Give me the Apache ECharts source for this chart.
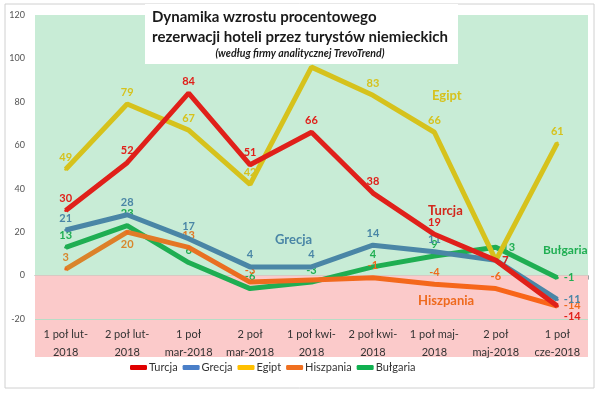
<!DOCTYPE html>
<html><head><meta charset="utf-8">
<script src="https://cdn.jsdelivr.net/npm/echarts@6/dist/echarts.min.js"></script>
<style>html,body{margin:0;padding:0;background:#fff}#c{width:600px;height:394px}</style>
</head><body><div id="c"></div>
<script>
const categories = ['1 poł lut-\n2018','2 poł lut-\n2018','1 poł\nmar-2018','2 poł\nmar-2018','1 poł kwi-\n2018','2 poł kwi-\n2018','1 poł maj-\n2018','2 poł\nmaj-2018','1 poł\ncze-2018'];
const turcja    = [30, 52, 84, 51, 66, 38, 19, 7, -14];
const grecja    = [21, 28, 17, 4, 4, 14, 11, 7, -11];
const egipt     = [49, 79, 67, 42, 96, 83, 66, 7, 61];
const hiszpania = [3, 20, 13, -3, -2, -1, -4, -6, -14];
const bulgaria  = [13, 23, 6, -6, -3, 4, 9, 13, -1];
const yTicks = [-20, 0, 20, 40, 60, 80, 100, 120];

const FONT = 'Lato, "Open Sans", sans-serif';
const chart = echarts.init(document.getElementById('c'));

function mk(name, data, color, opts) {
  opts = opts || {};
  return {
    name, type: 'line', data: data.map((v, i) => {
      const o = { value: v };
      if (opts.lab && opts.lab[i]) o.label = opts.lab[i];
      if (opts.hide && opts.hide.includes(i)) o.label = { show: false };
      return o;
    }),
    symbol: 'circle', symbolSize: 3, showSymbol: true, smooth: false, z: opts.z || 3,
    lineStyle: { color: opts.lineColor || color, width: 5 },
    itemStyle: { color },
    label: { show: true, position: 'top', distance: 5, color, fontWeight: 'bold', fontSize: 11, fontFamily: FONT },
    labelLayout: { hideOverlap: false },
    markArea: opts.areas,
    emphasis: { disabled: true }
  };
}

const orangeGrad = new echarts.graphic.LinearGradient(0, 0, 1, 0, [
  { offset: 0, color: '#d8862c' }, { offset: 0.35, color: '#ec6c20' }, { offset: 1, color: '#fa6418' }
]);

const option = {
  animation: false,
  textStyle: { fontFamily: FONT },
  grid: { left: 35, right: 12, top: 15, bottom: 75 },
  legend: {
    bottom: 16, left: 125, itemWidth: 17, itemHeight: 5, itemGap: 5, icon: 'roundRect',
    textStyle: { fontSize: 11, color: '#333', fontFamily: FONT, padding: [0, 0, 0, -3] },
    data: [
      { name: 'Turcja', itemStyle: { color: '#e00000' } },
      { name: 'Grecja', itemStyle: { color: '#4a7fc8' } },
      { name: 'Egipt', itemStyle: { color: '#ffc000' } },
      { name: 'Hiszpania', itemStyle: { color: '#f07020' } },
      { name: 'Bułgaria', itemStyle: { color: '#10b050' } }
    ]
  },
  xAxis: [
    { type: 'category', data: categories, boundaryGap: true,
      axisLine: { onZero: true, lineStyle: { color: '#a0a0a0' } },
      axisTick: { show: true, length: 4, lineStyle: { color: '#a0a0a0' } },
      axisLabel: { show: false } },
    { type: 'category', data: categories, boundaryGap: true, position: 'bottom',
      axisLine: { show: false }, axisTick: { show: false },
      axisLabel: { color: '#333', fontSize: 11, lineHeight: 18, margin: 6, fontFamily: FONT, interval: 0 } }
  ],
  yAxis: {
    type: 'value', min: -20, max: 120, interval: 20,
    axisLine: { show: false }, axisTick: { show: false },
    axisLabel: { color: '#555', fontSize: 9, margin: 10, fontFamily: FONT,
      formatter: v => yTicks.includes(v) ? String(v) : '' },
    splitLine: { lineStyle: { color: '#b8dcc6', width: 1 } }
  },
  series: [
    mk('Bułgaria', bulgaria, '#1fae52', { z: 3, lab: { 7: { position: 'right', offset: [-2, -8] }, 8: { position: 'right' } },
      areas: { silent: true, itemStyle: { opacity: 1 }, data: [
        [{ yAxis: 0, itemStyle: { color: '#c8ecd6' } }, { yAxis: 120 }],
        [{ yAxis: -20, itemStyle: { color: '#fbcaca' } }, { yAxis: 0 }]
      ] } }),
    mk('Hiszpania', hiszpania, '#f06a1c', { z: 4, lineColor: orangeGrad, lab: { 0: { color: '#d8862c' }, 1: { position: 'bottom', color: '#d8862c' }, 2: { color: '#e07a28' }, 8: { position: [8, -5] } }, hide: [4] }),
    mk('Egipt', egipt, '#d6c21c', { z: 5, hide: [4, 7] }),
    mk('Grecja', grecja, '#4a86a6', { z: 6, lab: { 7: { position: 'right', offset: [6, 0] }, 8: { position: 'right' } } }),
    mk('Turcja', turcja, '#e0201a', { z: 7, lab: { 7: { position: 'right' }, 8: { position: [8, 6] } } })
  ]
};
chart.setOption(option);

const p0 = chart.convertToPixel({ gridIndex: 0 }, [0, -20]);
const p1 = chart.convertToPixel({ gridIndex: 0 }, [8, 120]);
const band = (chart.convertToPixel({ xAxisIndex: 0 }, 1) - chart.convertToPixel({ xAxisIndex: 0 }, 0));
const leftX = p0[0] - band / 2, rightX = p1[0] + band / 2;
const yBottom = p0[1];

chart.setOption({
  graphic: [
    { type: 'rect', z: -10, silent: true, shape: { x: leftX, y: yBottom, width: rightX - leftX, height: 38 }, style: { fill: '#fbcaca' } },
    { type: 'rect', z: -20, silent: true, shape: { x: 5, y: 4, width: 589, height: 384 }, style: { fill: 'none', stroke: '#d0d0d0', lineWidth: 1 } },
    { type: 'rect', z: 50, silent: true, shape: { x: 145, y: 4, width: 313, height: 60 }, style: { fill: '#ffffff' } },
    { type: 'text', z: 51, left: 'center', top: 7, style: { text: 'Dynamika wzrostu procentowego\nrezerwacji hoteli przez turystów niemieckich', font: 'bold 15px ' + FONT, fill: '#1a1a1a', lineHeight: 20, align: 'center' } },
    { type: 'text', z: 51, left: 'center', top: 48, style: { text: '(według firmy analitycznej TrevoTrend)', font: 'italic bold 10.5px ' + FONT, fill: '#1a1a1a', align: 'center' } },
    { type: 'text', z: 52, left: 432, top: 89, style: { text: 'Egipt', font: 'bold 13px ' + FONT, fill: '#d6c21c' } },
    { type: 'text', z: 52, left: 428, top: 204, style: { text: 'Turcja', font: 'bold 13px ' + FONT, fill: '#d2281c' } },
    { type: 'text', z: 52, left: 275, top: 233, style: { text: 'Grecja', font: 'bold 13px ' + FONT, fill: '#4a86a6' } },
    { type: 'text', z: 52, left: 543, top: 244, style: { text: 'Bułgaria', font: 'bold 12px ' + FONT, fill: '#1fae52' } },
    { type: 'text', z: 52, left: 418, top: 294, style: { text: 'Hiszpania', font: 'bold 13px ' + FONT, fill: '#ee6a1e' } }
  ]
});
</script></body></html>
